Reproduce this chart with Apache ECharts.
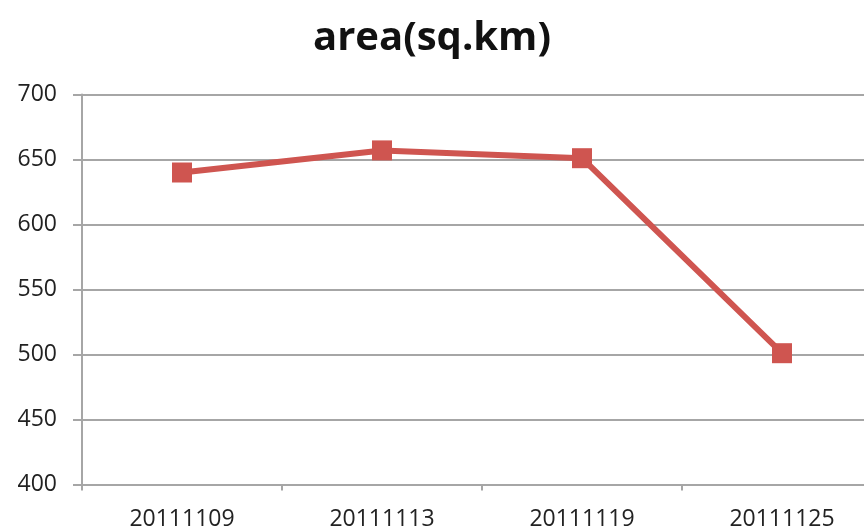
<!DOCTYPE html>
<html><head><meta charset="utf-8">
<script src="https://cdn.jsdelivr.net/npm/echarts@6/dist/echarts.min.js"></script>
<style>html,body{margin:0;padding:0;background:#fff}#c{width:864px;height:531px}</style>
</head><body><div id="c"></div>
<script>
const titleText = 'area(sq.km)';
const categories = ['20111109', '20111113', '20111119', '20111125'];
const areaValues = [640, 657, 651, 501];
const yTicks = [400, 450, 500, 550, 600, 650, 700];

const chart = echarts.init(document.getElementById('c'));
chart.setOption({
  animation: false,
  backgroundColor: '#fff',
  title: {
    text: titleText, left: 'center', top: 14,
    textStyle: { fontFamily: 'Open Sans', fontWeight: 'bold', fontSize: 40, color: '#111' }
  },
  grid: { left: 82, width: 800, top: 94.5, height: 390, containLabel: false, outerBoundsMode: 'none' },
  xAxis: {
    type: 'category', data: categories, boundaryGap: true,
    axisLine: { lineStyle: { color: '#a6a6a6', width: 2 } },
    axisTick: { show: true, length: 6, lineStyle: { color: '#a6a6a6', width: 2 } },
    axisLabel: { fontFamily: 'Open Sans', fontSize: 23, color: '#222', margin: 23 }
  },
  yAxis: {
    type: 'value', min: yTicks[0], max: yTicks[yTicks.length - 1], interval: 50,
    axisLine: { show: true, lineStyle: { color: '#a6a6a6', width: 2 } },
    axisTick: { show: true, length: 9, lineStyle: { color: '#a6a6a6', width: 2 } },
    splitLine: { lineStyle: { color: '#a6a6a6', width: 2 } },
    axisLabel: { fontFamily: 'Open Sans', fontSize: 23, color: '#222', margin: 25 }
  },
  series: [{
    type: 'line', data: areaValues,
    symbol: 'rect', symbolSize: 20,
    lineStyle: { color: '#cf5550', width: 6 },
    itemStyle: { color: '#cf5550' }
  }]
});
</script></body></html>
